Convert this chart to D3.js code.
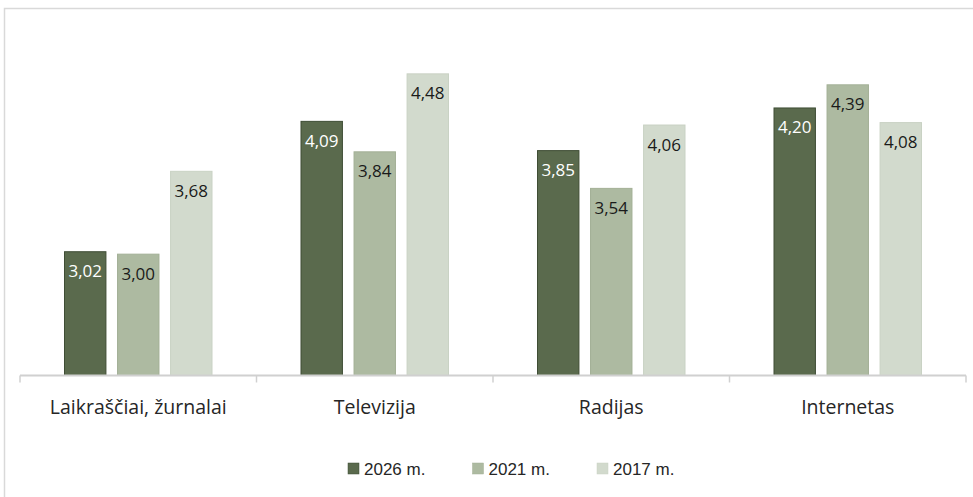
<!DOCTYPE html>
<html><head><meta charset="utf-8">
<script src="https://cdn.jsdelivr.net/npm/d3@7"></script>
<style>body{margin:0;background:#fff}svg{display:block}</style>
</head><body><svg id="c" width="973" height="497"></svg>
<script>
const categories = ["Laikraščiai, žurnalai", "Televizija", "Radijas", "Internetas"];
const seriesNames = ["2026 m.", "2021 m.", "2017 m."];
const v2026 = [3.02, 4.09, 3.85, 4.20];
const v2021 = [3.00, 3.84, 3.54, 4.39];
const v2017 = [3.68, 4.48, 4.06, 4.08];
const seriesValues = [v2026, v2021, v2017];
const colors = ["#5a6a4d", "#adbaa1", "#d2dacd"];
const strokes = ["#3f4d35", "#a3b096", "#c9d2c4"];
const labelColors = ["#ffffff", "#1a1a1a", "#1a1a1a"];

(function(){
const svg = d3.select("#c");
svg.append("rect").attr("x",4.5).attr("y",8.5).attr("width",1200).attr("height",700)
  .attr("fill","#fff").attr("stroke","#d9d9d9").attr("stroke-width",1.5);

const pl = 20, pr = 966, pt = 10, pb = 375.5;
const x0 = d3.scaleBand().domain(categories).range([pl, pr]).paddingInner(0).paddingOuter(0);
const x1 = d3.scaleBand().domain(seriesNames).range([44, x0.bandwidth()-44]).paddingInner(0.2).paddingOuter(0);
const y = d3.scaleLinear().domain([2, 5]).range([pb, pt]);

const g = svg.append("g");
categories.forEach((c, ci) => {
  seriesNames.forEach((s, si) => {
    const val = seriesValues[si][ci];
    const bx = x0(c) + x1(s);
    g.append("rect").attr("x", bx + 0.5).attr("y", y(val) + 0.5)
      .attr("width", x1.bandwidth() - 1).attr("height", y(2) - y(val) - 0.5)
      .attr("fill", colors[si]).attr("stroke", strokes[si]).attr("stroke-width", 1);
    g.append("text").attr("x", bx + x1.bandwidth()/2).attr("y", y(val) + 26)
      .attr("text-anchor","middle").attr("font-family","Open Sans").attr("font-size","17px")
      .attr("fill", labelColors[si]).text(d3.format(".2f")(val).replace(".", ","));
  });
});

const axis = d3.axisBottom(x0).tickSize(0).tickPadding(0);
const ag = svg.append("g").attr("transform", `translate(0,${pb})`).call(axis);
ag.select(".domain").attr("stroke","#d0d0d0").attr("stroke-width",2).attr("d", `M${pl},0H${pr}`);
ag.selectAll(".tick text").attr("font-family","Open Sans").attr("font-size","19.5px").attr("fill","#262626").attr("dy","0").attr("y", 38);
const bounds = [pl, ...categories.map(c => x0(c) + x0.bandwidth())];
ag.selectAll(".sep").data(bounds).enter().append("line").attr("class","sep")
  .attr("x1", d=>d).attr("x2", d=>d).attr("y1", 0).attr("y2", 7)
  .attr("stroke","#d0d0d0").attr("stroke-width",1.5);

const legX = [348, 472.5, 597];
const lg = svg.append("g");
seriesNames.forEach((s, i) => {
  lg.append("rect").attr("x", legX[i]).attr("y", 463).attr("width", 11).attr("height", 11)
    .attr("fill", colors[i]).attr("stroke", strokes[i]).attr("stroke-width", 0.5);
  lg.append("text").attr("x", legX[i] + 16).attr("y", 475).attr("font-family","Liberation Sans, Arial")
    .attr("font-size","17px").attr("fill","#262626").text(s);
});
})();
</script></body></html>
